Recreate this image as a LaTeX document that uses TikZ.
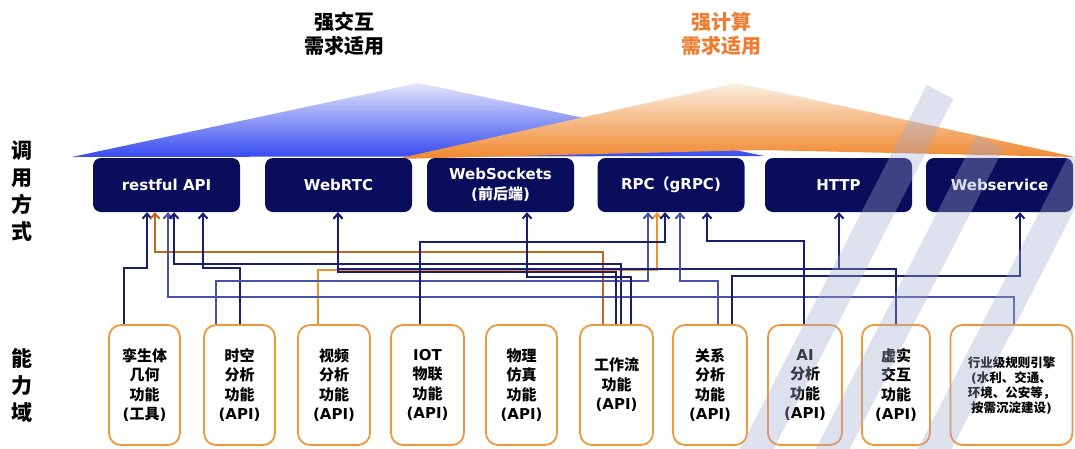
\documentclass[tikz,border=0pt]{standalone}
\usepackage{fontspec}
\setmainfont{DejaVu Sans}
\newfontfamily\cjk{Noto Sans CJK SC}
\usetikzlibrary{arrows.meta}
\definecolor{navybox}{RGB}{10,12,92}
\definecolor{navyline}{RGB}{26,30,115}
\definecolor{blueline}{RGB}{72,82,168}
\definecolor{orgline}{RGB}{240,145,45}
\definecolor{brownline}{RGB}{185,105,30}
\definecolor{orgborder}{RGB}{240,150,60}
\definecolor{orgtext}{RGB}{237,125,49}
\definecolor{wmark}{RGB}{160,168,205}
\begin{document}
\begin{tikzpicture}[x=1pt,y=-1pt,
  topbox/.style={fill=navybox, rounded corners=8pt, minimum width=147pt, minimum height=54pt, text=white, font=\fontsize{15}{20}\selectfont\bfseries, align=center, inner sep=0pt},
  botbox/.style={draw=orgborder, line width=1.8pt, fill=white, rounded corners=12pt, minimum height=120pt, font=\fontsize{15}{19.5}\selectfont\bfseries, align=center, inner sep=0pt},
  conn/.style={line width=2pt, -{Straight Barb[length=5pt,width=9pt]}},
  nav/.style={conn, draw=navyline},
  lnav/.style={conn, draw=blueline},
  orl/.style={conn, draw=orgline},
  brl/.style={conn, draw=brownline},
  ttl/.style={font=\fontsize{20}{24}\selectfont\bfseries, align=center},
  side/.style={font=\fontsize{21}{27}\selectfont\bfseries, align=center},
  wm/.style={draw=wmark, line width=30pt, opacity=0.35}
]
\useasboundingbox (0,0) rectangle (1075,448);
% triangles
\shade[top color={rgb,255:red,228;green,230;blue,252}, middle color={rgb,255:red,125;green,135;blue,246}, bottom color={rgb,255:red,55;green,75;blue,240}]
  (72,157) -- (418,83) -- (764,156) -- cycle;
\shade[top color={rgb,255:red,252;green,238;blue,225}, middle color={rgb,255:red,248;green,192;blue,142}, bottom color={rgb,255:red,240;green,135;blue,45}]
  (396,159) -- (737,83) -- (1075,157) -- (760,150) -- cycle;
% titles
\node[ttl] (ttl1) at (344,34) {{\cjk 强交互}\\{\cjk 需求适用}};
\node[ttl, text=orgtext] (ttl2) at (721,34) {{\cjk 强计算}\\{\cjk 需求适用}};
\node[side] (side1) at (22,191) {{\cjk 调}\\{\cjk 用}\\{\cjk 方}\\{\cjk 式}};
\node[side] (side2) at (22,385) {{\cjk 能}\\{\cjk 力}\\{\cjk 域}};
% top boxes
\node[topbox] (t1) at (166.5,185) {restful API};
\node[topbox] (t2) at (338.5,185) {WebRTC};
\node[topbox] (t3) at (500.5,185) {WebSockets\\({\cjk 前后端})};
\node[topbox] (t4) at (671,185) {RPC{\cjk （}gRPC)};
\node[topbox] (t5) at (838.5,185) {HTTP};
\node[topbox] (t6) at (999.5,185) {Webservice};
% bottom boxes
\node[botbox, minimum width=71pt] (b1) at (144.5,385) {{\cjk 孪生体}\\{\cjk 几何}\\{\cjk 功能}\\({\cjk 工具})};
\node[botbox, minimum width=71pt] (b2) at (239.5,385) {{\cjk 时空}\\{\cjk 分析}\\{\cjk 功能}\\(API)};
\node[botbox, minimum width=72pt] (b3) at (334,385) {{\cjk 视频}\\{\cjk 分析}\\{\cjk 功能}\\(API)};
\node[botbox, minimum width=73pt] (b4) at (427.5,385) {IOT\\{\cjk 物联}\\{\cjk 功能}\\(API)};
\node[botbox, minimum width=71pt] (b5) at (521.5,385) {{\cjk 物理}\\{\cjk 仿真}\\{\cjk 功能}\\(API)};
\node[botbox, minimum width=73pt] (b6) at (616.5,385) {{\cjk 工作流}\\{\cjk 功能}\\(API)};
\node[botbox, minimum width=74pt] (b7) at (710,385) {{\cjk 关系}\\{\cjk 分析}\\{\cjk 功能}\\(API)};
\node[botbox, minimum width=74pt] (b8) at (805,385) {AI\\{\cjk 分析}\\{\cjk 功能}\\(API)};
\node[botbox, minimum width=68pt] (b9) at (896,385) {{\cjk 虚实}\\{\cjk 交互}\\{\cjk 功能}\\(API)};
\node[botbox, minimum width=122pt, font=\fontsize{12.5}{15}\selectfont\bfseries] (b10) at (1011.5,385) {{\cjk 行业级规则引擎}\\({\cjk 水利、交通、}\\{\cjk 环境、公安等，}\\{\cjk 按需沉淀建设})};
% connectors
\draw[orl] (b3.north -| 318,0) |- (657,270) -- (t4.south -| 657,0);
\draw[nav] (b1.north -| 124,0) |- (147,268) -- (t1.south -| 147,0);
\draw[brl] (b6.north -| 603,0) |- (155,252) -- (t1.south -| 155,0);
\draw[lnav] (b10.north -| 1014,0) |- (168,297) -- (t1.south -| 168,0);
\draw[nav] (b6.north -| 621,0) |- (174,264) -- (t1.south -| 174,0);
\draw[nav] (b2.north -| 240,0) |- (203,268) -- (t1.south -| 203,0);
\draw[lnav] (b2.north -| 216,0) |- (648,281) -- (t4.south -| 648,0);
\draw[nav] (b6.north -| 616,0) |- (338,272) -- (t2.south -| 338,0);
\draw[nav] (b9.north -| 896,0) |- (338,269) -- (t2.south -| 338,0);
\draw[nav] (b9.north -| 896,0) |- (839,269) -- (t5.south -| 839,0);
\draw[nav] (b4.north -| 420,0) |- (665,242) -- (t4.south -| 665,0);
\draw[nav] (b6.north -| 631,0) |- (527,277) -- (t3.south -| 527,0);
\draw[lnav] (b7.north -| 718,0) |- (680,281) -- (t4.south -| 680,0);
\draw[nav] (b7.north -| 732,0) |- (1020,276) -- (t6.south -| 1020,0);
\draw[nav] (b8.north -| 804,0) |- (707,241) -- (t4.south -| 707,0);
% watermark
\begin{scope}
\clip (0,0) rectangle (1075,448);
\draw[wm] (750,462) -- (940,92);
\draw[wm] (826,462) -- (990,142);
\draw[wm] (928,462) -- (1082,162);
\end{scope}
\end{tikzpicture}
\end{document}
